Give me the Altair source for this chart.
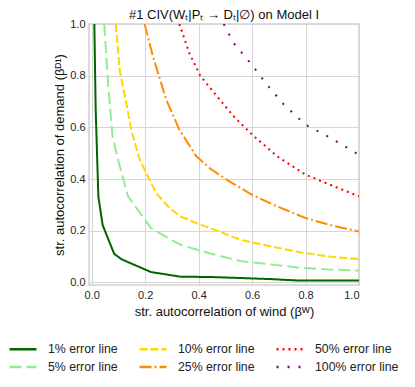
import altair as alt
import pandas as pd

levels = ["1% error line", "5% error line", "10% error line",
          "25% error line", "50% error line", "100% error line"]

x_1 = [0.010, 0.015, 0.025, 0.041, 0.084, 0.111, 0.222, 0.333, 0.444, 0.556, 0.667, 0.778, 0.889, 1.0]
y_1 = [1.000, 0.667, 0.333, 0.222, 0.111, 0.090, 0.040, 0.022, 0.021, 0.017, 0.013, 0.007, 0.007, 0.007]

x_5 = [0.047, 0.062, 0.078, 0.100, 0.136, 0.222, 0.333, 0.444, 0.556, 0.667, 0.778, 0.889, 1.0]
y_5 = [1.000, 0.760, 0.565, 0.470, 0.333, 0.210, 0.145, 0.112, 0.083, 0.070, 0.057, 0.050, 0.046]

x_10 = [0.090, 0.105, 0.130, 0.151, 0.180, 0.204, 0.241, 0.291, 0.333, 0.390, 0.444, 0.556, 0.667, 0.778, 0.889, 1.0]
y_10 = [1.000, 0.820, 0.690, 0.578, 0.475, 0.423, 0.346, 0.288, 0.255, 0.230, 0.210, 0.165, 0.140, 0.117, 0.100, 0.090]

x_25 = [0.198, 0.229, 0.279, 0.328, 0.390, 0.444, 0.506, 0.600, 0.694, 0.800, 0.900, 1.0]
y_25 = [1.000, 0.875, 0.707, 0.591, 0.490, 0.440, 0.397, 0.339, 0.294, 0.249, 0.220, 0.197]

x_50 = [0.328, 0.365, 0.406, 0.469, 0.531, 0.600, 0.694, 0.800, 0.906, 1.0]
y_50 = [1.000, 0.888, 0.800, 0.720, 0.643, 0.572, 0.488, 0.417, 0.372, 0.333]

x_100 = [0.494, 0.531, 0.594, 0.656, 0.719, 0.800, 0.894, 1.0]
y_100 = [1.000, 0.926, 0.849, 0.765, 0.688, 0.610, 0.559, 0.494]

series = [(levels[0], x_1, y_1), (levels[1], x_5, y_5), (levels[2], x_10, y_10),
          (levels[3], x_25, y_25), (levels[4], x_50, y_50), (levels[5], x_100, y_100)]

rows = []
for name, xs, ys in series:
    for i, (a, b) in enumerate(zip(xs, ys)):
        rows.append({"line": name, "bw": a, "bd": b, "order": i})
df = pd.DataFrame(rows)

colors = ["#006400", "#90EE90", "#FFD700", "#FF8C00", "#FF0000", "#800080"]
dashes = [[1, 0], [12, 5], [8, 3], [12, 3, 2, 3], [2, 4], [2, 9]]

FONT = "Liberation Sans"

legend = alt.Legend(title=None, orient="none", legendX=-77, legendY=314,
                    columns=3, columnPadding=16, rowPadding=0,
                    symbolType="M-1.42,0L1.42,0", symbolSize=361, symbolStrokeWidth=2.5,
                    labelFontSize=12.3, labelFont=FONT, labelColor="#222222",
                    labelOffset=14)

chart = alt.Chart(df).mark_line(strokeWidth=2, clip=True).encode(
    x=alt.X("bw:Q", scale=alt.Scale(domain=[-0.01, 1.0], nice=False, zero=False),
            axis=alt.Axis(values=[0, 0.2, 0.4, 0.6, 0.8, 1.0], format=".1f",
                          title="str. autocorrelation of wind (βᵂ)")),
    y=alt.Y("bd:Q", scale=alt.Scale(domain=[-0.01, 1.0], nice=False, zero=False),
            axis=alt.Axis(values=[0, 0.2, 0.4, 0.6, 0.8, 1.0], format=".1f",
                          title="str. autocorrelation of demand (βᴰ¹)", titlePadding=3)),
    color=alt.Color("line:N", scale=alt.Scale(domain=levels, range=colors), legend=legend),
    strokeDash=alt.StrokeDash("line:N", scale=alt.Scale(domain=levels, range=dashes), legend=legend),
    order="order:Q",
).properties(
    width=270, height=261,
    autosize=alt.AutoSizeParams(type="none"),
    padding={"left": 81, "top": 16, "right": 48, "bottom": 94},
    title=alt.Title("#1 CIV(Wₜ|Pₜ → Dₜ|∅) on Model I", font=FONT, fontSize=13,
                    fontWeight="normal", color="#111111", offset=-4),
).configure_view(
    stroke="#cfcfcf", strokeWidth=1.5
).configure_axis(
    grid=True, gridColor="#d6d6d6", gridWidth=1, domain=False, ticks=False,
    labelFont=FONT, labelFontSize=11, labelColor="#262626", labelPadding=4,
    titleFont=FONT, titleFontSize=13, titleFontWeight="normal", titleColor="#111111",
    titlePadding=5,
)

chart.save("out.html", embed_options={"renderer": "svg", "actions": False})
